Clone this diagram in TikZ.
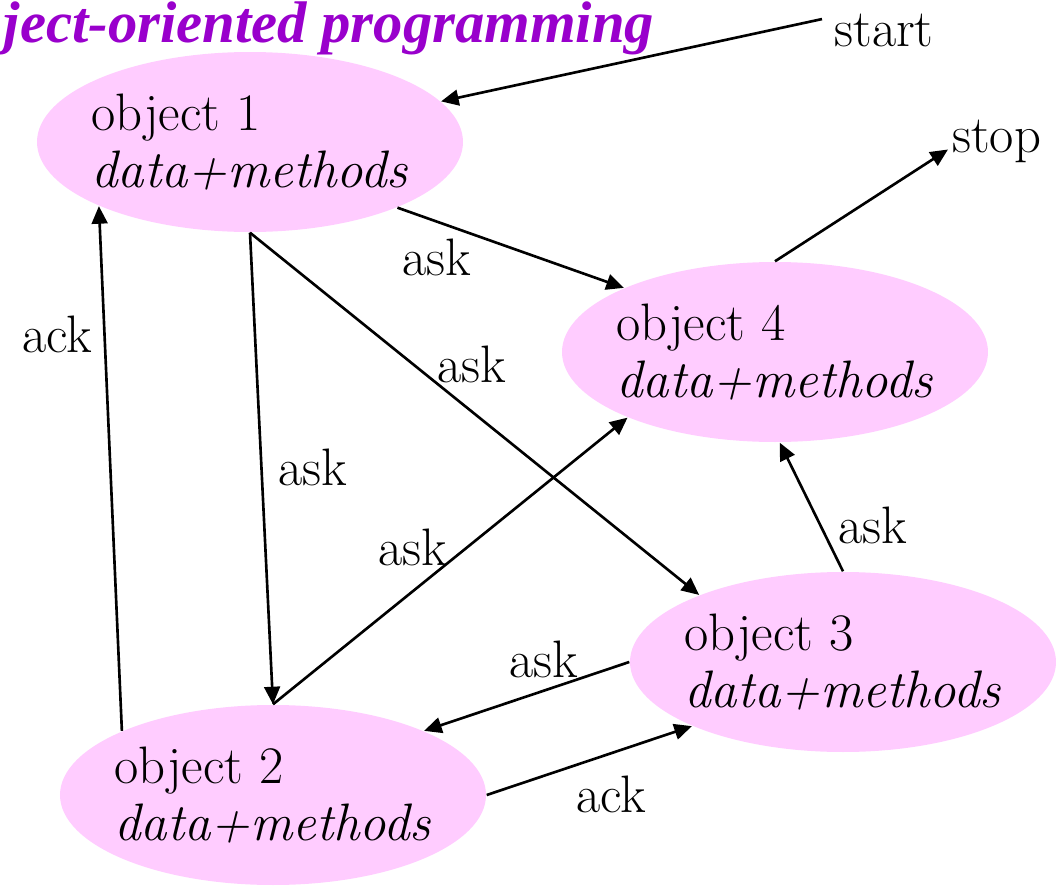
\documentclass[tikz,border=0pt]{standalone}
\usepackage{fontspec}
\newfontfamily\titlefont{Liberation Serif}
\usetikzlibrary{shapes.geometric,arrows.meta}

\definecolor{objpink}{RGB}{255,204,255}
\definecolor{titlepurple}{RGB}{153,0,204}

\tikzset{
  object/.style={ellipse, fill=objpink, minimum width=4.26cm, minimum height=1.80cm,
    inner xsep=-0.4cm, inner ysep=0pt, align=left, font=\fontsize{15}{16.2}\selectfont},
  msg/.style={anchor=base, font=\fontsize{15}{16.2}\selectfont},
  link/.style={line width=0.75pt, -{Triangle[length=5pt,width=4.5pt]}}
}

\begin{document}
\begin{tikzpicture}
    \useasboundingbox (0,0) rectangle (10.64,8.85);

    \node[object] (obj1) at (2.50,7.43) {object 1\\\textit{data+methods}};
    \node[object] (obj4) at (7.75,5.33) {object 4\\\textit{data+methods}};
    \node[object] (obj3) at (8.43,2.23) {object 3\\\textit{data+methods}};
    \node[object] (obj2) at (2.73,0.90) {object 2\\\textit{data+methods}};

    \node[anchor=base west, inner sep=0pt, text=titlepurple,
      font=\titlefont\fontsize{16.7}{20}\selectfont\bfseries\itshape]
      (title) at (0.03,8.43) {ject-oriented programming};

    \node[msg, anchor=base west] (start) at (8.22,8.39) {start};
    \node[msg, anchor=base west, inner sep=1pt] (stop) at (9.48,7.33) {stop};

    \draw[link] (start.170) -- (obj1.12);
    \draw[link] (obj4.north) -- (stop.190);
    \draw[link] (obj1.-24) -- (obj4.157);
    \draw[link] (obj1.south) -- (obj3.155);
    \draw[link] (obj1.south) -- (obj2.north);
    \draw[link] (obj2.north) -- (obj4.204);
    \draw[link] (obj3.north) -- (obj4.-87);
    \draw[link] (obj3.west) -- (obj2.23);
    \draw[link] (obj2.east) -- (obj3.203);
    \draw[link] (obj2.157) -- (obj1.203);

    \node[msg] (ask14) at (4.365,6.10) {ask};
    \node[msg] (ask13) at (4.715,5.03) {ask};
    \node[msg] (ask12) at (3.125,4.00) {ask};
    \node[msg] (ask24) at (4.125,3.20) {ask};
    \node[msg] (ask34) at (8.73,3.42) {ask};
    \node[msg] (ask32) at (5.435,2.08) {ask};
    \node[msg] (ack23) at (6.11,0.73) {ack};
    \node[msg] (ack21) at (0.57,5.33) {ack};
\end{tikzpicture}
\end{document}
